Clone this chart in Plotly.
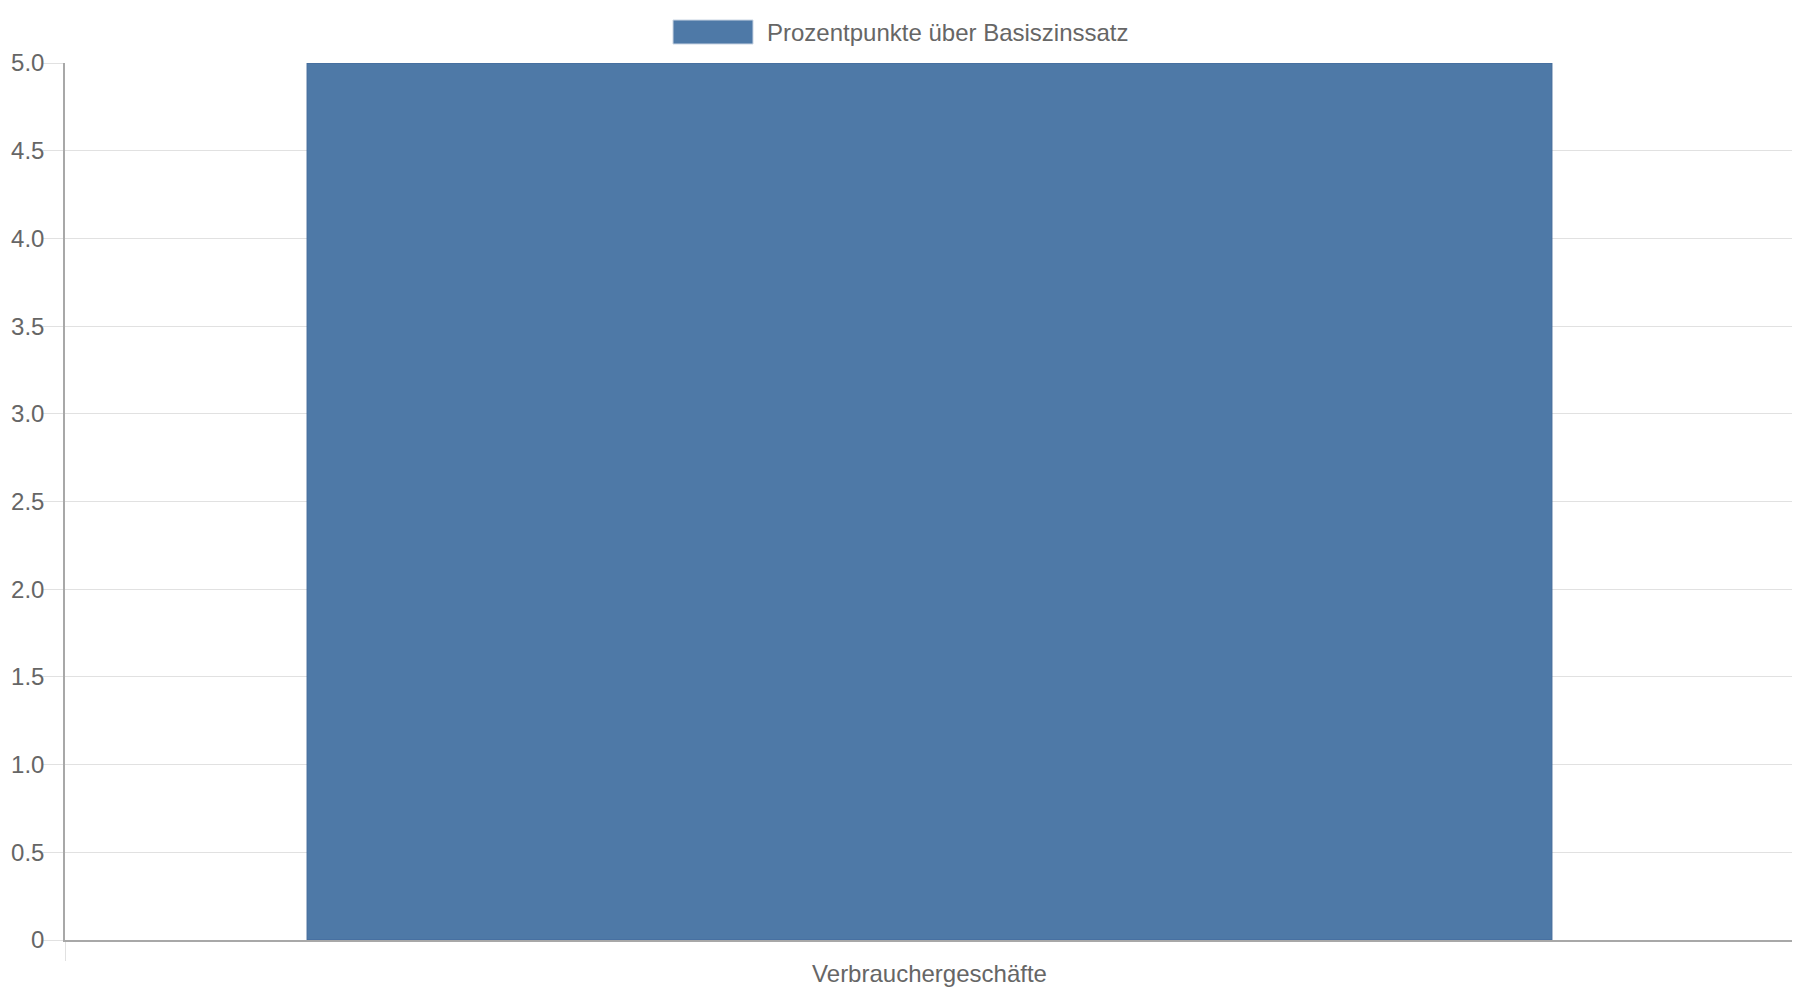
import plotly.graph_objects as go

categories = ["Verbrauchergeschäfte"]
values = [5.0]
seriesName = "Prozentpunkte über Basiszinssatz"
yTickVals = [0, 0.5, 1.0, 1.5, 2.0, 2.5, 3.0, 3.5, 4.0, 4.5, 5.0]
yTickText = ["0", "0.5", "1.0", "1.5", "2.0", "2.5", "3.0", "3.5", "4.0", "4.5", "5.0"]

barColor = "#4e79a7"
textColor = "#666666"
gridColor = "#e1e1e1"
axisColor = "#a8a8a8"
fontFamily = "Liberation Sans, Arial, sans-serif"

# page body has an 8px margin, so the figure sits 8px down and right
pageOffset = 8
plotLeft, plotRight, plotTop, plotBottom = 65 - pageOffset, 1794 - pageOffset, 63 - pageOffset, 940 - pageOffset
figW, figH = 1800, 1000
plotW, plotH = plotRight - plotLeft, plotBottom - plotTop

bar = go.Bar(x=categories, y=values, name=seriesName, width=0.72,
             marker={"color": barColor, "line": {"color": "#41699a", "width": 1}},
             showlegend=False)

fig = go.Figure(data=[bar])

fig.update_layout(
    width=figW, height=figH,
    paper_bgcolor="white", plot_bgcolor="white",
    margin={"l": plotLeft, "r": figW - plotRight, "t": plotTop, "b": figH - plotBottom, "pad": 0,
            "autoexpand": False},
    font={"family": fontFamily, "size": 24, "color": textColor},
    xaxis={"showgrid": True, "gridcolor": gridColor, "gridwidth": 1,
           "tickson": "boundaries", "ticks": "outside", "ticklen": 19,
           "tickcolor": gridColor, "showline": True, "linecolor": axisColor,
           "linewidth": 1.5, "ticklabelstandoff": 11, "automargin": False,
           "tickfont": {"size": 24, "color": textColor}},
    yaxis={"range": [0, 5], "tickvals": yTickVals, "ticktext": yTickText,
           "showgrid": True, "gridcolor": gridColor, "gridwidth": 1,
           "ticks": "outside", "ticklen": 20, "tickcolor": gridColor,
           "showline": True, "linecolor": axisColor, "linewidth": 1.5,
           "zeroline": False, "ticklabelstandoff": -6, "automargin": False,
           "tickfont": {"size": 24, "color": textColor}},
)

# legend swatch and label, drawn like the chart library's top legend
def px_x(x):
    return (x - pageOffset - plotLeft) / plotW


def px_y(y):
    return 1 + (plotTop - (y - pageOffset)) / plotH


fig.add_shape(type="rect", xref="paper", yref="paper",
              x0=px_x(673), x1=px_x(753), y0=px_y(44), y1=px_y(20),
              fillcolor=barColor, line={"color": "#c9d5e3", "width": 1})
fig.add_annotation(text=seriesName, xref="paper", yref="paper",
                   x=px_x(765), y=px_y(32),
                   xanchor="left", yanchor="middle", showarrow=False,
                   font={"size": 24, "color": textColor, "family": fontFamily})

fig.write_html("out.html")
